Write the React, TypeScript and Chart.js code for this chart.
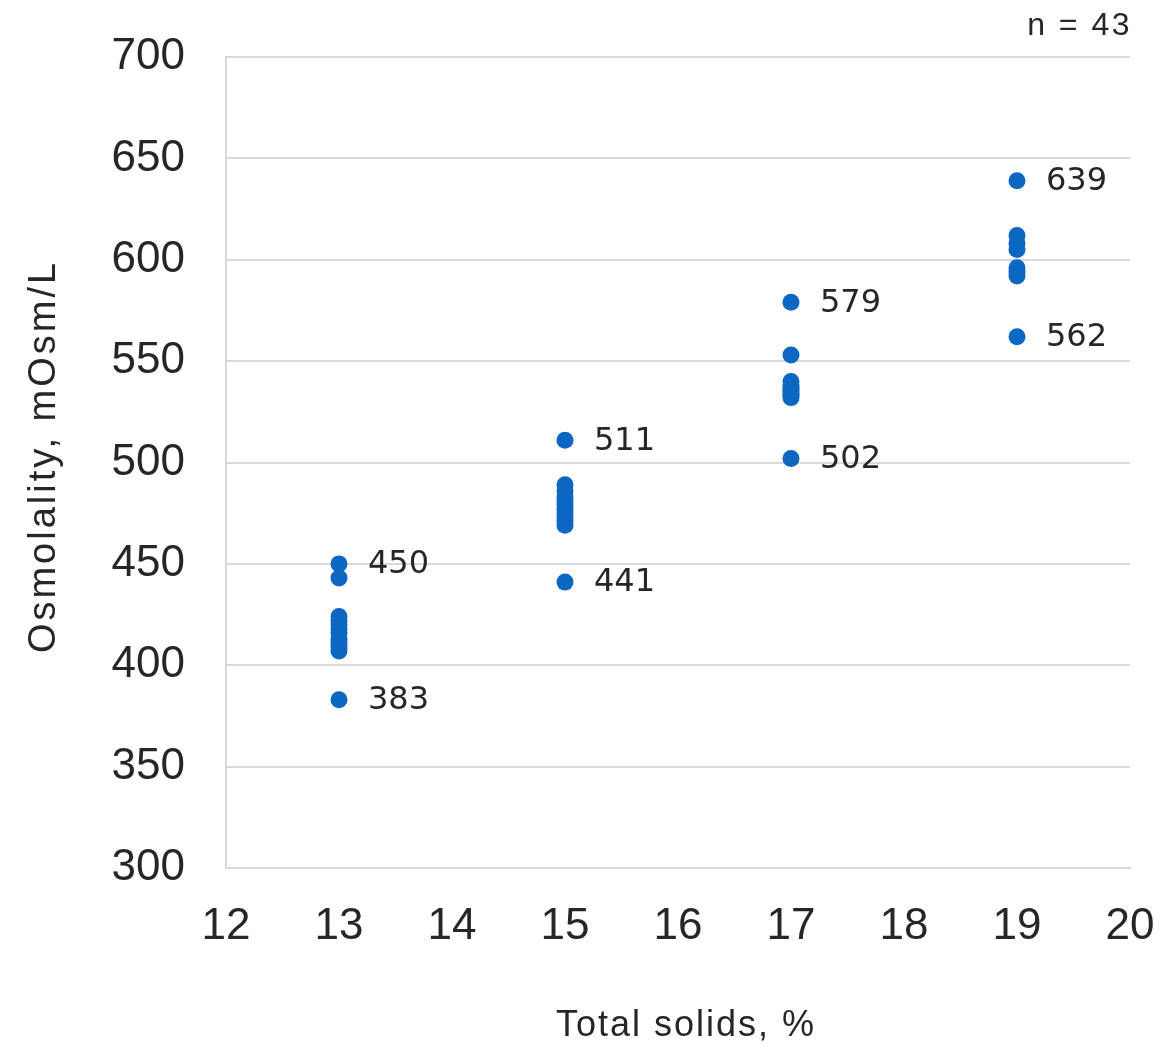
import React, { useEffect, useRef } from "react";
import { Chart, registerables } from "chart.js";

Chart.register(...registerables);

// Total solids (%) groups and osmolality (mOsm/L) values
const solids13 = [383, 407, 409, 411, 413, 416, 418, 420, 422, 424, 443, 450];
const solids15 = [441, 469, 471, 473, 475, 477, 479, 481, 483, 486, 489, 511];
const solids17 = [502, 532, 533, 534, 535, 536, 537, 538, 540, 553, 579];
const solids19 = [562, 592, 594, 596, 605, 608, 612, 639];
const groupX = [13, 15, 17, 19];
const groupY = [solids13, solids15, solids17, solids19];
const xTicks = [12, 13, 14, 15, 16, 17, 18, 19, 20];
const yTicks = [300, 350, 400, 450, 500, 550, 600, 650, 700];
const nLabel = "n = 43";
const xTitle = "Total solids, %";
const yTitle = "Osmolality, mOsm/L";

const POINT_COLOR = "#0b67c2";
const GRID = "#d9d9d9";
const TEXT = "#262626";
const SANS = "'Liberation Sans', Arial, sans-serif";

export default function App() {
  const ref = useRef<HTMLCanvasElement | null>(null);

  useEffect(() => {
    document.body.style.margin = "0";
    const canvas = ref.current;
    if (!canvas) return;

    const points: { x: number; y: number }[] = [];
    groupY.forEach((vals, i) => vals.forEach((v) => points.push({ x: groupX[i], y: v })));

    const textPlugin = {
      id: "textExtras",
      afterDatasetsDraw(chart: any) {
        const { ctx, scales, chartArea } = chart;
        ctx.save();
        ctx.fillStyle = TEXT;
        // min / max labels per group
        ctx.font = "32px 'DejaVu Sans'";
        ctx.textAlign = "left";
        ctx.textBaseline = "middle";
        groupY.forEach((vals, i) => {
          const lo = Math.min(...vals);
          const hi = Math.max(...vals);
          [lo, hi].forEach((v) => {
            const px = scales.x.getPixelForValue(groupX[i]);
            const py = scales.y.getPixelForValue(v);
            ctx.fillText(String(v), px + 29, py + 1);
          });
        });
        // n label
        ctx.font = "32px " + SANS;
        ctx.letterSpacing = "2.5px";
        ctx.textAlign = "right";
        ctx.textBaseline = "alphabetic";
        ctx.fillText(nLabel, chartArea.right + 2, 35);
        // x title
        ctx.font = "36px " + SANS;
        ctx.letterSpacing = "2px";
        ctx.textAlign = "center";
        ctx.fillText(xTitle, (chartArea.left + chartArea.right) / 2 + 8, 1036);
        // y title
        ctx.font = "38px " + SANS;
        ctx.letterSpacing = "3px";
        ctx.translate(55, (chartArea.top + chartArea.bottom) / 2 - 6);
        ctx.rotate(-Math.PI / 2);
        ctx.fillText(yTitle, 0, 0);
        ctx.restore();
      },
    };

    const chart = new Chart(canvas, {
      type: "scatter",
      data: {
        datasets: [
          {
            data: points,
            backgroundColor: POINT_COLOR,
            borderColor: POINT_COLOR,
            pointRadius: 8.5,
            pointBorderWidth: 0,
          },
        ],
      },
      options: {
        animation: false,
        responsive: false,
        events: [],
        layout: { padding: { left: 0, right: 30, top: 57, bottom: 0 } },
        plugins: { legend: { display: false }, tooltip: { enabled: false } },
        scales: {
          x: {
            type: "linear",
            min: 12,
            max: 20,
            afterBuildTicks: (s: any) => {
              s.ticks = xTicks.map((v) => ({ value: v }));
            },
            afterFit: (s: any) => {
              s.height = 1051 - 868;
              s.paddingLeft = 0;
              s.paddingRight = 0;
            },
            grid: { display: false, drawTicks: false },
            border: { display: true, color: GRID, width: 2 },
            ticks: {
              padding: 32,
              color: TEXT,
              font: { family: SANS, size: 44 },
              maxRotation: 0,
            },
          },
          y: {
            type: "linear",
            min: 300,
            max: 700,
            afterBuildTicks: (s: any) => {
              s.ticks = yTicks.map((v) => ({ value: v }));
            },
            afterFit: (s: any) => {
              s.width = 226;
              s.paddingTop = 0;
              s.paddingBottom = 0;
            },
            grid: { color: GRID, lineWidth: 2, drawTicks: false },
            border: { display: true, color: GRID, width: 2 },
            ticks: {
              padding: 41,
              color: TEXT,
              font: { family: SANS, size: 44 },
            },
          },
        },
      },
      plugins: [textPlugin],
    });

    return () => chart.destroy();
  }, []);

  return (
    <div style={{ width: 1160, height: 1051, background: "#fff" }}>
      <canvas ref={ref} width={1160} height={1051} style={{ display: "block" }} />
    </div>
  );
}
